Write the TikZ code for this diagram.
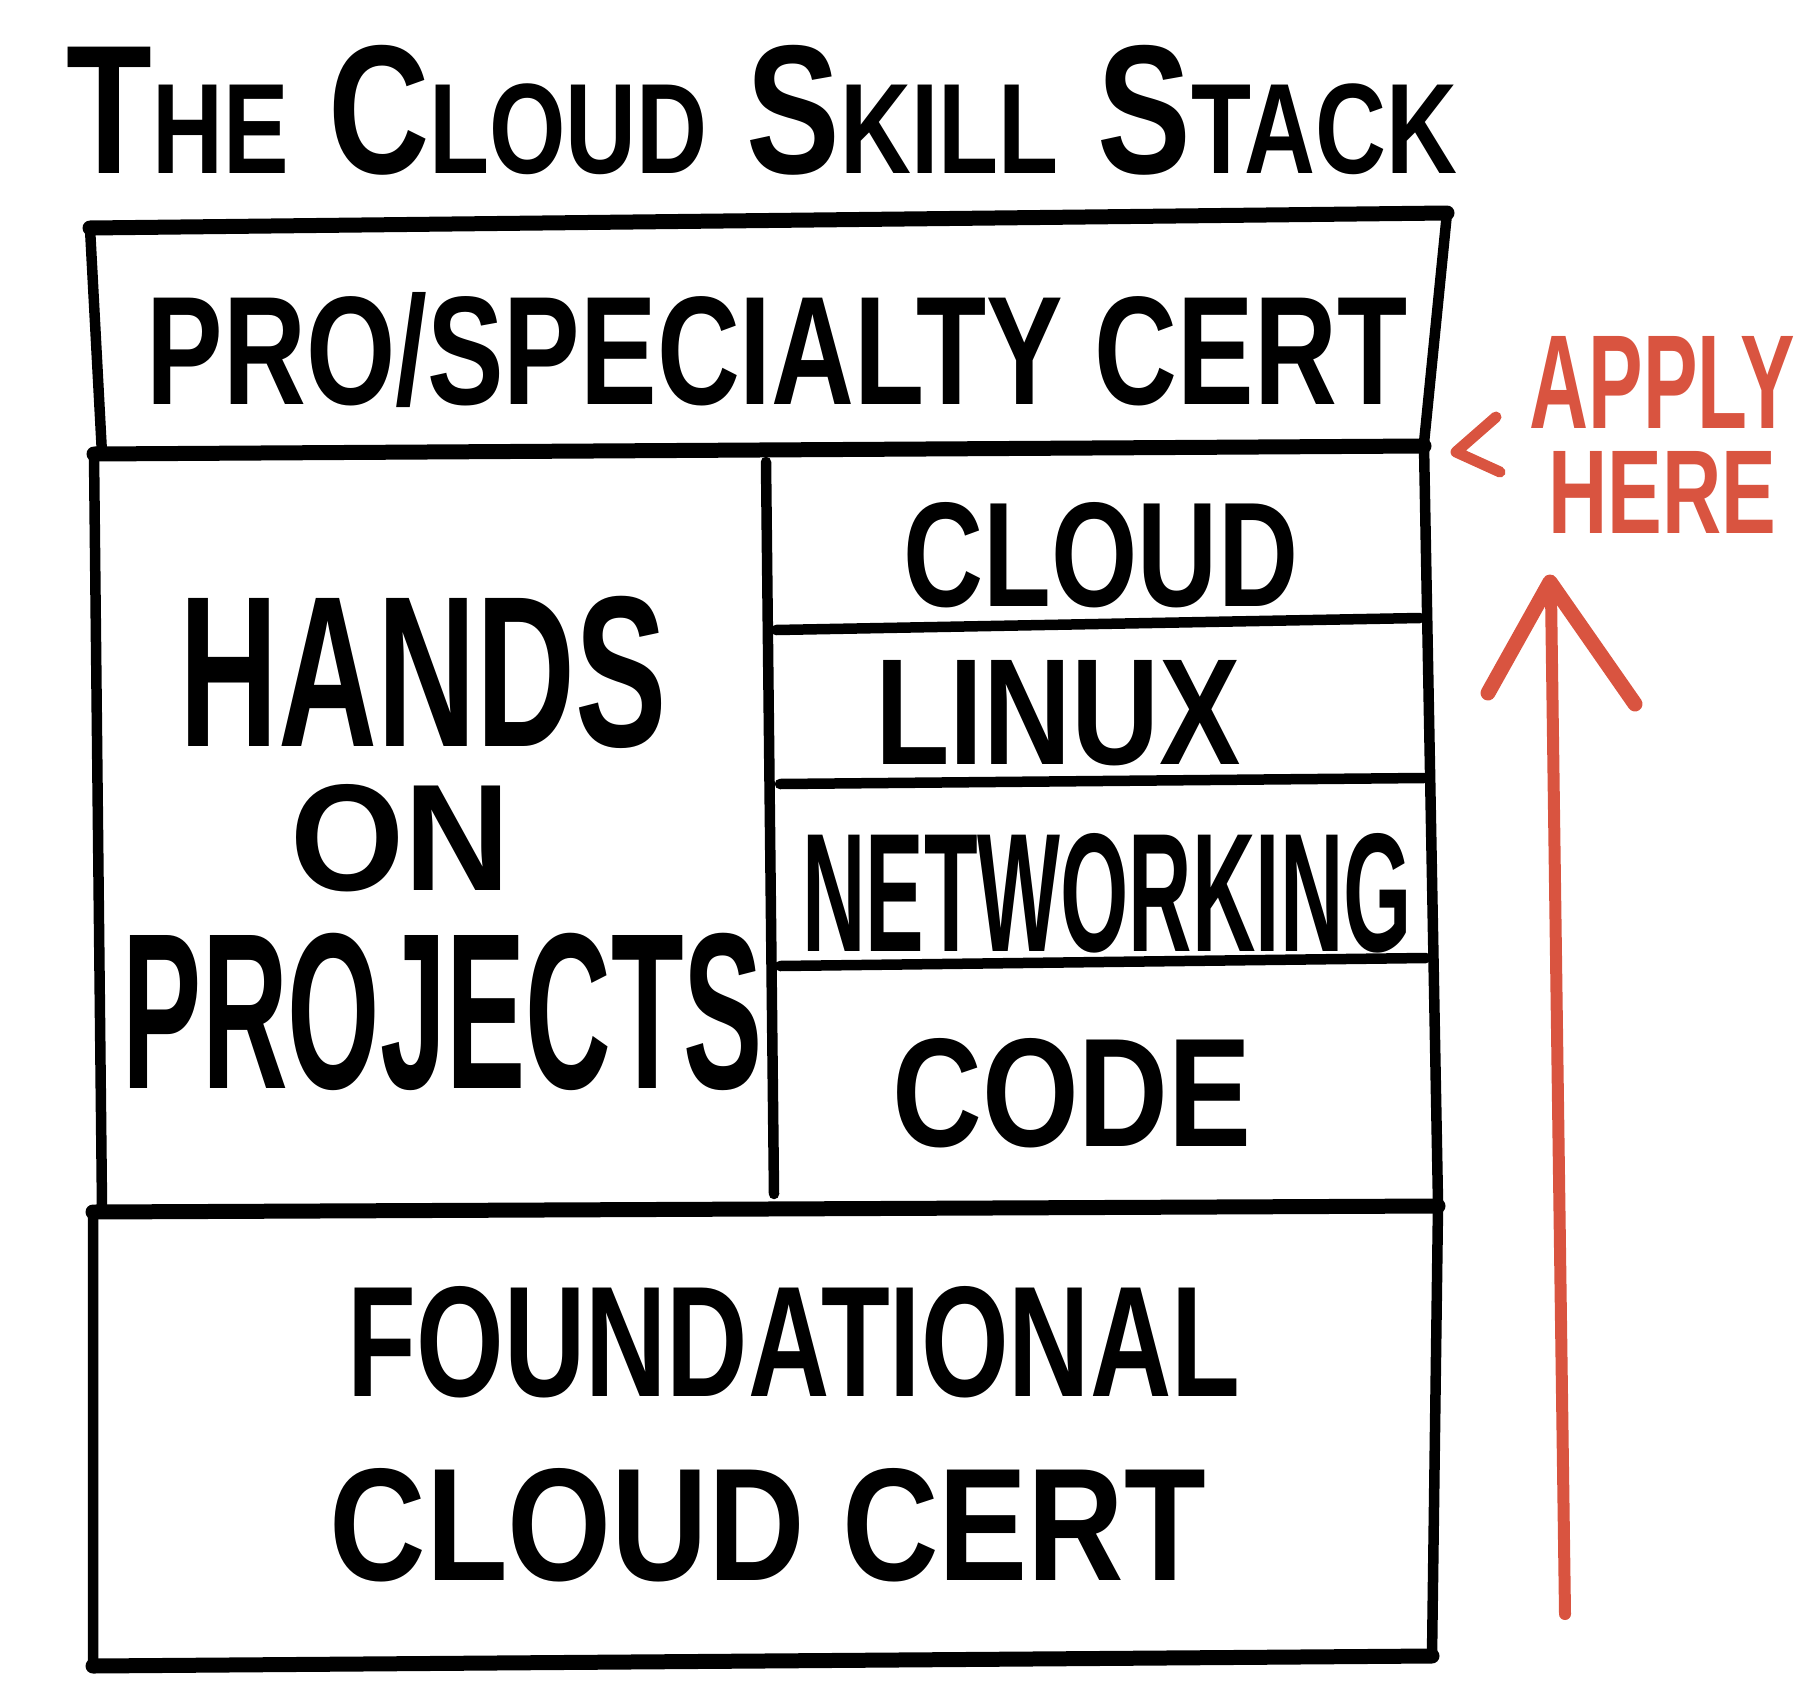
\documentclass[tikz,border=0pt]{standalone}
\usepackage{fontspec}
\setmainfont{Liberation Sans}
\usepackage{graphicx}
\definecolor{redink}{RGB}{217,84,64}
\newcommand\fitbox[3]{\resizebox{#1pt}{#2pt}{\bfseries #3}}
\newcommand\smc[1]{{\fontsize{7}{7}\selectfont #1}}
\begin{document}
\begin{tikzpicture}[x=1pt,y=-1pt, line join=round, line cap=round,
  edge/.style={line width=10.5pt},
  heavy/.style={line width=15pt},
  lbl/.style={inner sep=0pt, anchor=center},
  redline/.style={draw=redink, line width=13pt},
  redtext/.style={inner sep=0pt, anchor=center, text=redink}]
\useasboundingbox (0,0) rectangle (1818,1694);

% title
\node[lbl] (title) at (762,110) {\fitbox{1390}{128}{\fontsize{10}{10}\selectfont T\smc{HE} C\smc{LOUD} S\smc{KILL} S\smc{TACK}}};

% top box
\coordinate (t1) at (90,228);
\coordinate (t2) at (1447,213);
\coordinate (t3) at (1424,443);
\coordinate (t4) at (102,454);
\draw[heavy] (t1) -- (t2);
\draw[edge] (t2) -- (t3) (t1) -- (t4);

% middle box
\coordinate (m1) at (94,454);
\coordinate (m2) at (1424,446);
\coordinate (m3) at (1438,1203);
\coordinate (m4) at (102,1206);
\draw[heavy] (m1) -- (m2);
\draw[edge] (m2) -- (m3) (m1) -- (m4);
\coordinate (d1) at (766,462);
\coordinate (d2) at (774,1194);
\draw[edge] (d1) -- (d2);
\coordinate (a1) at (776,630);  \coordinate (a2) at (1420,618);
\coordinate (b1) at (780,784);  \coordinate (b2) at (1424,778);
\coordinate (c1) at (780,966);  \coordinate (c2) at (1426,958);
\draw[edge] (a1) -- (a2);
\draw[edge] (b1) -- (b2);
\draw[edge] (c1) -- (c2);

% bottom box
\coordinate (f1) at (93,1212);
\coordinate (f2) at (1438,1206);
\coordinate (f3) at (1432,1656);
\coordinate (f4) at (93,1666);
\draw[heavy] (f1) -- (f2);
\draw[edge] (f2) -- (f3) (f1) -- (f4);
\draw[heavy] (f3) -- (f4);

% texts
\node[lbl] (pro) at (777,350) {\fitbox{1260}{112}{PRO/SPECIALTY CERT}};
\node[lbl] (hands) at (423,672) {\fitbox{487}{150}{HANDS}};
\node[lbl] (on) at (400,838) {\fitbox{220}{106}{ON}};
\node[lbl] (projects) at (443,1012) {\fitbox{640}{155}{PROJECTS}};
\node[lbl] (cloud) at (1101,555) {\fitbox{394}{104}{CLOUD}};
\node[lbl] (linux) at (1058,713) {\fitbox{366}{104}{LINUX}};
\node[lbl] (net) at (1107,893) {\fitbox{610}{118}{NETWORKING}};
\node[lbl] (code) at (1072,1093) {\fitbox{359}{108}{CODE}};
\node[lbl] (found) at (794,1342) {\fitbox{892}{110}{FOUNDATIONAL}};
\node[lbl] (cloudcert) at (768,1525) {\fitbox{876}{112}{CLOUD CERT}};

% red annotation
\node[redtext] (apply) at (1662,382) {\fitbox{265}{92}{APPLY}};
\node[redtext] (here) at (1662,492) {\fitbox{228}{82}{HERE}};
\coordinate (lt1) at (1496,417);
\coordinate (lt2) at (1456,452);
\coordinate (lt3) at (1500,472);
\draw[redline, line width=11pt] (lt1) -- (lt2) -- (lt3);

\coordinate (shaftlo) at (1565,1614);
\coordinate (shafthi) at (1551,592);
\coordinate (tip) at (1550,582);
\coordinate (hl) at (1488,693);
\coordinate (hr) at (1635,704);
\draw[redline, line width=12pt] (shaftlo) -- (shafthi);
\draw[redline, line width=15pt] (hl) -- (tip) -- (hr);
\end{tikzpicture}
\end{document}
